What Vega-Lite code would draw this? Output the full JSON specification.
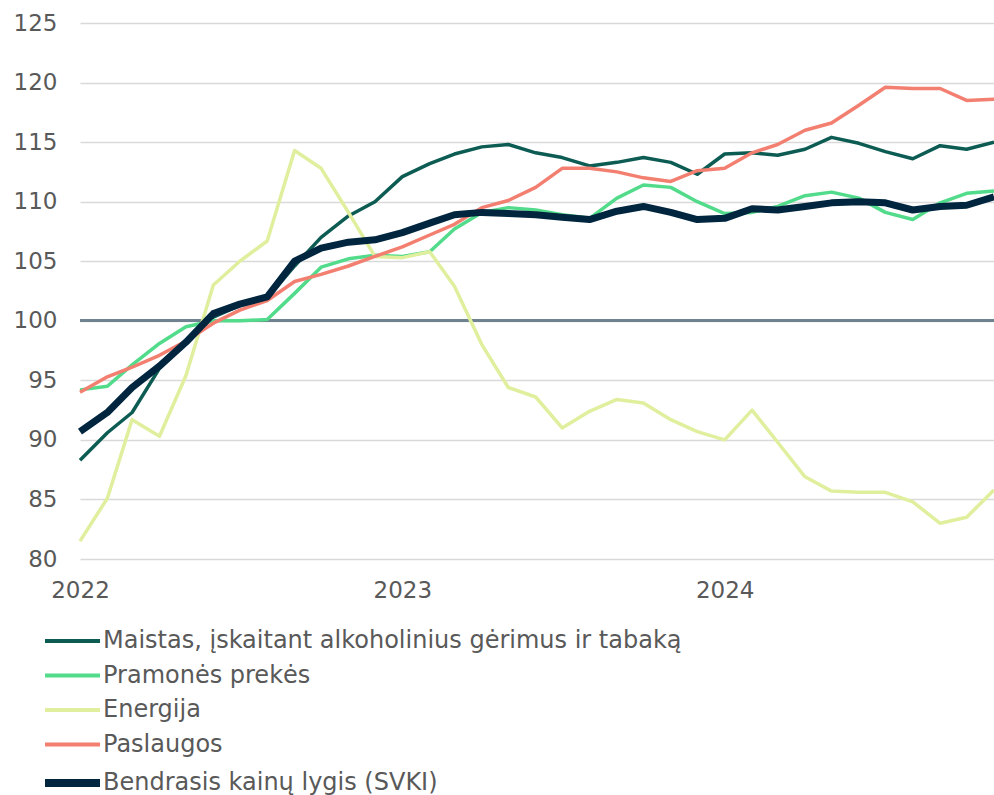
{
  "$schema": "https://vega.github.io/schema/vega-lite/v6.json",
  "width": 914,
  "height": 536,
  "autosize": {"type": "none"},
  "padding": {"left": 80, "top": 23, "right": 0, "bottom": 236},
  "background": "white",
  "config": {
    "view": {"stroke": null},
    "font": "DejaVu Sans",
    "axis": {"labelFont": "DejaVu Sans", "labelColor": "#595959", "labelFontSize": 23, "title": null}
  },
  "data": {
    "values": [
      {"d":"2022-01","s":"Maistas, įskaitant alkoholinius gėrimus ir tabaką","v":88.3},
      {"d":"2022-02","s":"Maistas, įskaitant alkoholinius gėrimus ir tabaką","v":90.6},
      {"d":"2022-03","s":"Maistas, įskaitant alkoholinius gėrimus ir tabaką","v":92.3},
      {"d":"2022-04","s":"Maistas, įskaitant alkoholinius gėrimus ir tabaką","v":96.0},
      {"d":"2022-05","s":"Maistas, įskaitant alkoholinius gėrimus ir tabaką","v":98.2},
      {"d":"2022-06","s":"Maistas, įskaitant alkoholinius gėrimus ir tabaką","v":100.3},
      {"d":"2022-07","s":"Maistas, įskaitant alkoholinius gėrimus ir tabaką","v":101.3},
      {"d":"2022-08","s":"Maistas, įskaitant alkoholinius gėrimus ir tabaką","v":101.9},
      {"d":"2022-09","s":"Maistas, įskaitant alkoholinius gėrimus ir tabaką","v":104.6},
      {"d":"2022-10","s":"Maistas, įskaitant alkoholinius gėrimus ir tabaką","v":107.0},
      {"d":"2022-11","s":"Maistas, įskaitant alkoholinius gėrimus ir tabaką","v":108.8},
      {"d":"2022-12","s":"Maistas, įskaitant alkoholinius gėrimus ir tabaką","v":110.0},
      {"d":"2023-01","s":"Maistas, įskaitant alkoholinius gėrimus ir tabaką","v":112.1},
      {"d":"2023-02","s":"Maistas, įskaitant alkoholinius gėrimus ir tabaką","v":113.2},
      {"d":"2023-03","s":"Maistas, įskaitant alkoholinius gėrimus ir tabaką","v":114.0},
      {"d":"2023-04","s":"Maistas, įskaitant alkoholinius gėrimus ir tabaką","v":114.6},
      {"d":"2023-05","s":"Maistas, įskaitant alkoholinius gėrimus ir tabaką","v":114.8},
      {"d":"2023-06","s":"Maistas, įskaitant alkoholinius gėrimus ir tabaką","v":114.1},
      {"d":"2023-07","s":"Maistas, įskaitant alkoholinius gėrimus ir tabaką","v":113.7},
      {"d":"2023-08","s":"Maistas, įskaitant alkoholinius gėrimus ir tabaką","v":113.0},
      {"d":"2023-09","s":"Maistas, įskaitant alkoholinius gėrimus ir tabaką","v":113.3},
      {"d":"2023-10","s":"Maistas, įskaitant alkoholinius gėrimus ir tabaką","v":113.7},
      {"d":"2023-11","s":"Maistas, įskaitant alkoholinius gėrimus ir tabaką","v":113.3},
      {"d":"2023-12","s":"Maistas, įskaitant alkoholinius gėrimus ir tabaką","v":112.3},
      {"d":"2024-01","s":"Maistas, įskaitant alkoholinius gėrimus ir tabaką","v":114.0},
      {"d":"2024-02","s":"Maistas, įskaitant alkoholinius gėrimus ir tabaką","v":114.1},
      {"d":"2024-03","s":"Maistas, įskaitant alkoholinius gėrimus ir tabaką","v":113.9},
      {"d":"2024-04","s":"Maistas, įskaitant alkoholinius gėrimus ir tabaką","v":114.4},
      {"d":"2024-05","s":"Maistas, įskaitant alkoholinius gėrimus ir tabaką","v":115.4},
      {"d":"2024-06","s":"Maistas, įskaitant alkoholinius gėrimus ir tabaką","v":114.9},
      {"d":"2024-07","s":"Maistas, įskaitant alkoholinius gėrimus ir tabaką","v":114.2},
      {"d":"2024-08","s":"Maistas, įskaitant alkoholinius gėrimus ir tabaką","v":113.6},
      {"d":"2024-09","s":"Maistas, įskaitant alkoholinius gėrimus ir tabaką","v":114.7},
      {"d":"2024-10","s":"Maistas, įskaitant alkoholinius gėrimus ir tabaką","v":114.4},
      {"d":"2024-11","s":"Maistas, įskaitant alkoholinius gėrimus ir tabaką","v":115.0},
      {"d":"2022-01","s":"Pramonės prekės","v":94.2},
      {"d":"2022-02","s":"Pramonės prekės","v":94.5},
      {"d":"2022-03","s":"Pramonės prekės","v":96.3},
      {"d":"2022-04","s":"Pramonės prekės","v":98.1},
      {"d":"2022-05","s":"Pramonės prekės","v":99.5},
      {"d":"2022-06","s":"Pramonės prekės","v":100.0},
      {"d":"2022-07","s":"Pramonės prekės","v":100.0},
      {"d":"2022-08","s":"Pramonės prekės","v":100.1},
      {"d":"2022-09","s":"Pramonės prekės","v":102.3},
      {"d":"2022-10","s":"Pramonės prekės","v":104.5},
      {"d":"2022-11","s":"Pramonės prekės","v":105.2},
      {"d":"2022-12","s":"Pramonės prekės","v":105.5},
      {"d":"2023-01","s":"Pramonės prekės","v":105.4},
      {"d":"2023-02","s":"Pramonės prekės","v":105.8},
      {"d":"2023-03","s":"Pramonės prekės","v":107.7},
      {"d":"2023-04","s":"Pramonės prekės","v":109.1},
      {"d":"2023-05","s":"Pramonės prekės","v":109.5},
      {"d":"2023-06","s":"Pramonės prekės","v":109.3},
      {"d":"2023-07","s":"Pramonės prekės","v":108.9},
      {"d":"2023-08","s":"Pramonės prekės","v":108.6},
      {"d":"2023-09","s":"Pramonės prekės","v":110.3},
      {"d":"2023-10","s":"Pramonės prekės","v":111.4},
      {"d":"2023-11","s":"Pramonės prekės","v":111.2},
      {"d":"2023-12","s":"Pramonės prekės","v":110.0},
      {"d":"2024-01","s":"Pramonės prekės","v":109.0},
      {"d":"2024-02","s":"Pramonės prekės","v":109.1},
      {"d":"2024-03","s":"Pramonės prekės","v":109.6},
      {"d":"2024-04","s":"Pramonės prekės","v":110.5},
      {"d":"2024-05","s":"Pramonės prekės","v":110.8},
      {"d":"2024-06","s":"Pramonės prekės","v":110.3},
      {"d":"2024-07","s":"Pramonės prekės","v":109.1},
      {"d":"2024-08","s":"Pramonės prekės","v":108.5},
      {"d":"2024-09","s":"Pramonės prekės","v":109.9},
      {"d":"2024-10","s":"Pramonės prekės","v":110.7},
      {"d":"2024-11","s":"Pramonės prekės","v":110.9},
      {"d":"2022-01","s":"Energija","v":81.5},
      {"d":"2022-02","s":"Energija","v":85.1},
      {"d":"2022-03","s":"Energija","v":91.7},
      {"d":"2022-04","s":"Energija","v":90.3},
      {"d":"2022-05","s":"Energija","v":95.4},
      {"d":"2022-06","s":"Energija","v":103.0},
      {"d":"2022-07","s":"Energija","v":105.0},
      {"d":"2022-08","s":"Energija","v":106.7},
      {"d":"2022-09","s":"Energija","v":114.3},
      {"d":"2022-10","s":"Energija","v":112.8},
      {"d":"2022-11","s":"Energija","v":109.1},
      {"d":"2022-12","s":"Energija","v":105.4},
      {"d":"2023-01","s":"Energija","v":105.3},
      {"d":"2023-02","s":"Energija","v":105.8},
      {"d":"2023-03","s":"Energija","v":102.9},
      {"d":"2023-04","s":"Energija","v":98.0},
      {"d":"2023-05","s":"Energija","v":94.4},
      {"d":"2023-06","s":"Energija","v":93.6},
      {"d":"2023-07","s":"Energija","v":91.0},
      {"d":"2023-08","s":"Energija","v":92.4},
      {"d":"2023-09","s":"Energija","v":93.4},
      {"d":"2023-10","s":"Energija","v":93.1},
      {"d":"2023-11","s":"Energija","v":91.7},
      {"d":"2023-12","s":"Energija","v":90.7},
      {"d":"2024-01","s":"Energija","v":90.0},
      {"d":"2024-02","s":"Energija","v":92.5},
      {"d":"2024-03","s":"Energija","v":89.8},
      {"d":"2024-04","s":"Energija","v":86.9},
      {"d":"2024-05","s":"Energija","v":85.7},
      {"d":"2024-06","s":"Energija","v":85.6},
      {"d":"2024-07","s":"Energija","v":85.6},
      {"d":"2024-08","s":"Energija","v":84.8},
      {"d":"2024-09","s":"Energija","v":83.0},
      {"d":"2024-10","s":"Energija","v":83.5},
      {"d":"2024-11","s":"Energija","v":85.8},
      {"d":"2022-01","s":"Paslaugos","v":94.0},
      {"d":"2022-02","s":"Paslaugos","v":95.3},
      {"d":"2022-03","s":"Paslaugos","v":96.1},
      {"d":"2022-04","s":"Paslaugos","v":97.1},
      {"d":"2022-05","s":"Paslaugos","v":98.3},
      {"d":"2022-06","s":"Paslaugos","v":99.8},
      {"d":"2022-07","s":"Paslaugos","v":100.9},
      {"d":"2022-08","s":"Paslaugos","v":101.7},
      {"d":"2022-09","s":"Paslaugos","v":103.3},
      {"d":"2022-10","s":"Paslaugos","v":103.9},
      {"d":"2022-11","s":"Paslaugos","v":104.6},
      {"d":"2022-12","s":"Paslaugos","v":105.4},
      {"d":"2023-01","s":"Paslaugos","v":106.2},
      {"d":"2023-02","s":"Paslaugos","v":107.2},
      {"d":"2023-03","s":"Paslaugos","v":108.1},
      {"d":"2023-04","s":"Paslaugos","v":109.5},
      {"d":"2023-05","s":"Paslaugos","v":110.1},
      {"d":"2023-06","s":"Paslaugos","v":111.2},
      {"d":"2023-07","s":"Paslaugos","v":112.8},
      {"d":"2023-08","s":"Paslaugos","v":112.8},
      {"d":"2023-09","s":"Paslaugos","v":112.5},
      {"d":"2023-10","s":"Paslaugos","v":112.0},
      {"d":"2023-11","s":"Paslaugos","v":111.7},
      {"d":"2023-12","s":"Paslaugos","v":112.6},
      {"d":"2024-01","s":"Paslaugos","v":112.8},
      {"d":"2024-02","s":"Paslaugos","v":114.1},
      {"d":"2024-03","s":"Paslaugos","v":114.8},
      {"d":"2024-04","s":"Paslaugos","v":116.0},
      {"d":"2024-05","s":"Paslaugos","v":116.6},
      {"d":"2024-06","s":"Paslaugos","v":118.1},
      {"d":"2024-07","s":"Paslaugos","v":119.6},
      {"d":"2024-08","s":"Paslaugos","v":119.5},
      {"d":"2024-09","s":"Paslaugos","v":119.5},
      {"d":"2024-10","s":"Paslaugos","v":118.5},
      {"d":"2024-11","s":"Paslaugos","v":118.6},
      {"d":"2022-01","s":"Bendrasis kainų lygis (SVKI)","v":90.7},
      {"d":"2022-02","s":"Bendrasis kainų lygis (SVKI)","v":92.3},
      {"d":"2022-03","s":"Bendrasis kainų lygis (SVKI)","v":94.4},
      {"d":"2022-04","s":"Bendrasis kainų lygis (SVKI)","v":96.2},
      {"d":"2022-05","s":"Bendrasis kainų lygis (SVKI)","v":98.2},
      {"d":"2022-06","s":"Bendrasis kainų lygis (SVKI)","v":100.6},
      {"d":"2022-07","s":"Bendrasis kainų lygis (SVKI)","v":101.4},
      {"d":"2022-08","s":"Bendrasis kainų lygis (SVKI)","v":102.0},
      {"d":"2022-09","s":"Bendrasis kainų lygis (SVKI)","v":105.0},
      {"d":"2022-10","s":"Bendrasis kainų lygis (SVKI)","v":106.1},
      {"d":"2022-11","s":"Bendrasis kainų lygis (SVKI)","v":106.6},
      {"d":"2022-12","s":"Bendrasis kainų lygis (SVKI)","v":106.8},
      {"d":"2023-01","s":"Bendrasis kainų lygis (SVKI)","v":107.4},
      {"d":"2023-02","s":"Bendrasis kainų lygis (SVKI)","v":108.2},
      {"d":"2023-03","s":"Bendrasis kainų lygis (SVKI)","v":108.9},
      {"d":"2023-04","s":"Bendrasis kainų lygis (SVKI)","v":109.1},
      {"d":"2023-05","s":"Bendrasis kainų lygis (SVKI)","v":109.0},
      {"d":"2023-06","s":"Bendrasis kainų lygis (SVKI)","v":108.9},
      {"d":"2023-07","s":"Bendrasis kainų lygis (SVKI)","v":108.7},
      {"d":"2023-08","s":"Bendrasis kainų lygis (SVKI)","v":108.5},
      {"d":"2023-09","s":"Bendrasis kainų lygis (SVKI)","v":109.2},
      {"d":"2023-10","s":"Bendrasis kainų lygis (SVKI)","v":109.6},
      {"d":"2023-11","s":"Bendrasis kainų lygis (SVKI)","v":109.1},
      {"d":"2023-12","s":"Bendrasis kainų lygis (SVKI)","v":108.5},
      {"d":"2024-01","s":"Bendrasis kainų lygis (SVKI)","v":108.6},
      {"d":"2024-02","s":"Bendrasis kainų lygis (SVKI)","v":109.4},
      {"d":"2024-03","s":"Bendrasis kainų lygis (SVKI)","v":109.3},
      {"d":"2024-04","s":"Bendrasis kainų lygis (SVKI)","v":109.6},
      {"d":"2024-05","s":"Bendrasis kainų lygis (SVKI)","v":109.9},
      {"d":"2024-06","s":"Bendrasis kainų lygis (SVKI)","v":110.0},
      {"d":"2024-07","s":"Bendrasis kainų lygis (SVKI)","v":109.9},
      {"d":"2024-08","s":"Bendrasis kainų lygis (SVKI)","v":109.3},
      {"d":"2024-09","s":"Bendrasis kainų lygis (SVKI)","v":109.6},
      {"d":"2024-10","s":"Bendrasis kainų lygis (SVKI)","v":109.7},
      {"d":"2024-11","s":"Bendrasis kainų lygis (SVKI)","v":110.4}
    ],
    "format": {"parse": {"d": "date:'%Y-%m'"}}
  },
  "layer": [
    {
      "mark": {"type": "rule", "color": "#6f8291", "strokeWidth": 2},
      "encoding": {"y": {"datum": 100, "type": "quantitative"}}
    },
    {
      "mark": {"type": "line", "strokeJoin": "round", "strokeCap": "butt"},
      "encoding": {
        "x": {
          "field": "d", "type": "temporal",
          "scale": {"nice": false},
          "axis": {"format": "%Y", "tickCount": {"interval": "year", "step": 1}, "grid": false, "domain": false, "ticks": false, "labelFlush": false, "labelPadding": 20, "labelAlign": "center"}
        },
        "y": {
          "field": "v", "type": "quantitative",
          "scale": {"domain": [80, 125], "nice": false, "zero": false},
          "axis": {"values": [80, 85, 90, 95, 100, 105, 110, 115, 120, 125], "grid": true, "gridColor": "#d9d9d9", "gridWidth": 1.5, "domain": false, "ticks": false, "labelPadding": 23}
        },
        "color": {
          "field": "s", "type": "nominal",
          "scale": {
            "domain": ["Maistas, įskaitant alkoholinius gėrimus ir tabaką", "Pramonės prekės", "Energija", "Paslaugos", "Bendrasis kainų lygis (SVKI)"],
            "range": ["#0d5c53", "#52db8a", "#e0ef9d", "#f27f70", "#00263f"]
          },
          "legend": {
            "orient": "none", "legendX": -19.5, "legendY": 606, "direction": "vertical", "title": null,
            "labelFontSize": 24, "labelColor": "#595959", "labelFont": "DejaVu Sans",
            "symbolType": "stroke", "symbolSize": 3025, "labelOffset": 18.5, "rowPadding": 10.5, "labelLimit": 800,
            "encode": {"symbols": {"update": {"strokeWidth": {"signal": "datum.value === 'Bendrasis kainų lygis (SVKI)' ? 8 : 4"}}}}
          }
        },
        "strokeWidth": {
          "condition": {"test": "datum.s === 'Bendrasis kainų lygis (SVKI)'", "value": 7},
          "value": 3.5
        }
      }
    }
  ]
}
